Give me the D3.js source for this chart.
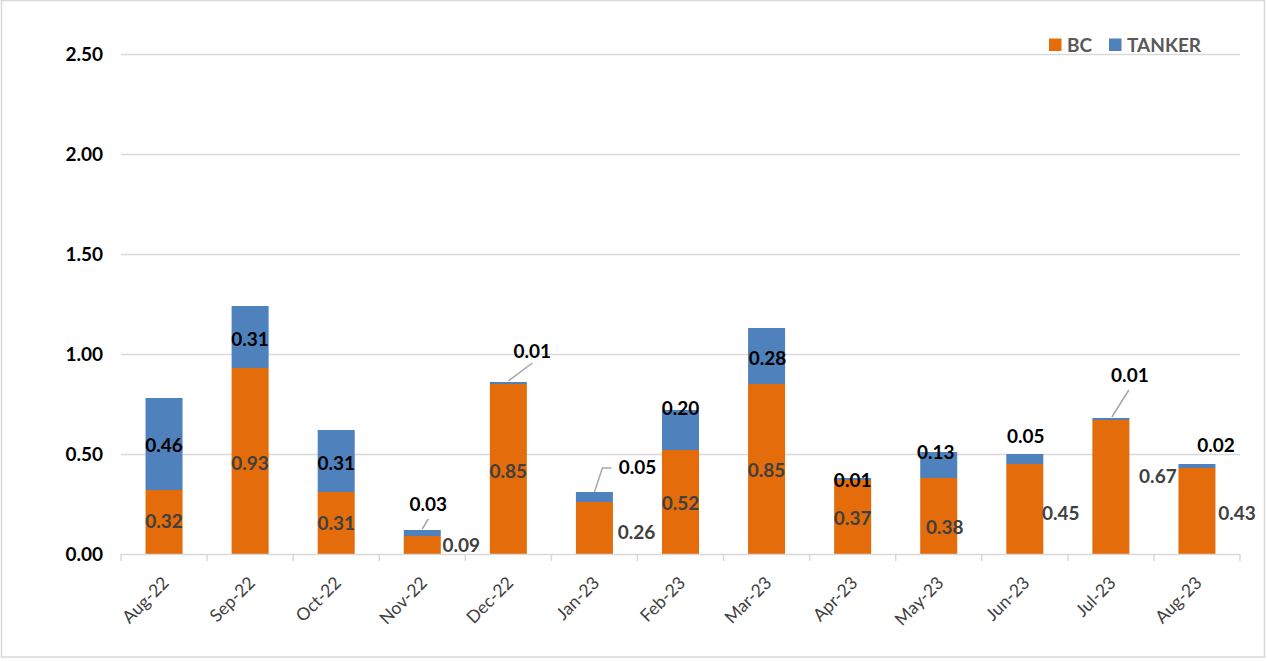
<!DOCTYPE html>
<html><head><meta charset="utf-8">
<script src="https://cdn.jsdelivr.net/npm/d3@7"></script>
<style>body{margin:0;background:#fff}svg{display:block}</style>
</head><body>
<script>
const categories = ["Aug-22","Sep-22","Oct-22","Nov-22","Dec-22","Jan-23","Feb-23","Mar-23","Apr-23","May-23","Jun-23","Jul-23","Aug-23"];
const bcValues =     [0.32,0.93,0.31,0.09,0.85,0.26,0.52,0.85,0.37,0.38,0.45,0.67,0.43];
const tankerValues = [0.46,0.31,0.31,0.03,0.01,0.05,0.20,0.28,0.01,0.13,0.05,0.01,0.02];
const yTicks = [0,0.5,1.0,1.5,2.0,2.5];
const seriesNames = ["BC","TANKER"];
// label placement offsets (pixels, relative to segment centre), as placed in the source chart
const bcLabelOffset =     [[0,-1],[0,2],[0,0],[39,0],[0,2],[42,4],[0,1],[0,1],[0,1],[6,11],[36,4],[47,-11],[40,2]];
const tankerLabelOffset = [[0,1],[0,2],[0,2],[6,-29],[24,-32],[43,-30],[0,-22],[1,2],[0,1],[-3,-13],[1,-23],[19,-44],[19,-21]];
// leader lines (pixels relative to bar top centre)
const leaders = {3:[[0,-1],[6,-11]],4:[[0,-1],[24,-19]],5:[[0,0],[8,-24],[17,-24]],11:[[1,-1],[18,-28]]};

const W=1267,H=661;
const svg=d3.select("body").append("svg").attr("width",W).attr("height",H);
svg.append("rect").attr("x",1.5).attr("y",0.5).attr("width",W-4).attr("height",H-4.5).attr("fill","#fff").attr("stroke","#D9D9D9").attr("stroke-width",1.5);

const m={l:121,r:1240,t:54,b:554};
const x=d3.scaleBand().domain(categories).range([m.l,m.r]).paddingInner(0.57).paddingOuter(0.285);
const y=d3.scaleLinear().domain([0,2.5]).range([m.b,m.t]);
const color={BC:"#E46C0A",TANKER:"#4F81BD"};
const font="Lato, 'Open Sans', sans-serif";

// gridlines
svg.append("g").selectAll("line").data(yTicks.slice(1)).join("line")
 .attr("x1",m.l).attr("x2",m.r).attr("y1",d=>Math.round(y(d))+0.5).attr("y2",d=>Math.round(y(d))+0.5)
 .attr("stroke","#D9D9D9").attr("stroke-width",1.5);

// y axis labels
const yAxis=d3.axisLeft(y).tickValues(yTicks).tickFormat(d3.format(".2f")).tickSize(0).tickPadding(18);
const gy=svg.append("g").attr("transform",`translate(${m.l},0)`).call(yAxis);
gy.select(".domain").remove();
gy.selectAll("text").attr("font-family",font).attr("font-weight","bold").attr("font-size",19).attr("fill","#000");

// stacked data
const rows=categories.map((c,i)=>({cat:c,BC:bcValues[i],TANKER:tankerValues[i]}));
const stack=d3.stack().keys(seriesNames)(rows);
svg.append("g").selectAll("g").data(stack).join("g").attr("fill",d=>color[d.key])
 .selectAll("rect").data(d=>d).join("rect")
 .attr("x",d=>x(d.data.cat)).attr("width",x.bandwidth())
 .attr("y",d=>y(d[1])).attr("height",d=>y(d[0])-y(d[1]));

// x axis
const xAxis=d3.axisBottom(x).tickSize(0).tickPadding(0);
const gx=svg.append("g").attr("transform",`translate(0,${m.b})`).call(xAxis);
gx.select(".domain").attr("stroke","#D9D9D9").attr("stroke-width",1.5).attr("d",`M${m.l},0.5H${m.r}`);
const step=x.step();
svg.append("g").selectAll("line").data(d3.range(categories.length+1)).join("line")
 .attr("x1",i=>m.l+i*step).attr("x2",i=>m.l+i*step).attr("y1",m.b).attr("y2",m.b+7)
 .attr("stroke","#D9D9D9").attr("stroke-width",1.5);
gx.selectAll("text").attr("font-family",font).attr("font-size",17.5).attr("fill","#404040")
 .attr("text-anchor","end").attr("dy",0)
 .attr("transform","translate(6,30) rotate(-45)");

// labels
const lab=svg.append("g").attr("font-family",font).attr("font-weight","bold").attr("font-size",19).attr("text-anchor","middle");
const cx=c=>x(c)+x.bandwidth()/2;
stack.forEach((s,si)=>{
  const offs=si===0?bcLabelOffset:tankerLabelOffset;
  const vals=si===0?bcValues:tankerValues;
  s.forEach((d,i)=>{
    const c=cx(d.data.cat);
    const yc=(y(d[0])+y(d[1]))/2;
    lab.append("text").attr("x",c+offs[i][0]).attr("y",yc+offs[i][1]).attr("dy","0.36em")
      .attr("fill",si===0?"#404040":"#000").text(d3.format(".2f")(vals[i]));
    if(si===1 && leaders[i]){
      const pts=leaders[i].map(q=>[c+q[0],y(d[1])+q[1]]);
      svg.append("path").attr("d",d3.line()(pts)).attr("fill","none").attr("stroke","#A6A6A6").attr("stroke-width",1.5);
    }
  });
});

// legend
const lg=svg.append("g").attr("font-family",font).attr("font-weight","bold").attr("font-size",19).attr("fill","#595959");
const lx=[1049,1109];
seriesNames.forEach((s,i)=>{
  lg.append("rect").attr("x",lx[i]).attr("y",38.5).attr("width",12.5).attr("height",12.5).attr("fill",color[s]);
  lg.append("text").attr("x",lx[i]+18).attr("y",45).attr("dy","0.36em").text(s);
});
</script>
</body></html>
